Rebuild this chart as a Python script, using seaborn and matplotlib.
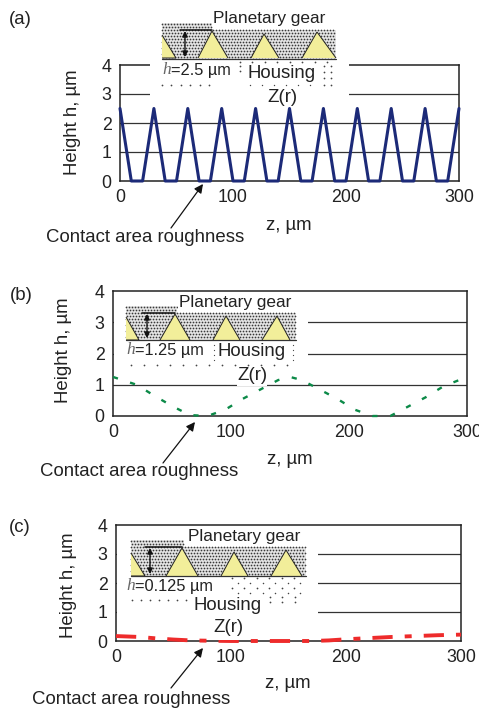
import numpy as np
import pandas as pd
import matplotlib
matplotlib.use('Agg')
import matplotlib.pyplot as plt
from matplotlib.patches import Polygon, Rectangle
import seaborn as sns

# profile data
z_a = [0, 10, 20, 30, 40, 50, 60, 70, 80, 90, 100, 110, 120, 130, 140, 150, 160, 170, 180, 190, 200,
       210, 220, 230, 240, 250, 260, 270, 280, 290, 300]
h_a = [2.5, 0, 0, 2.5, 0, 0, 2.5, 0, 0, 2.5, 0, 0, 2.5, 0, 0, 2.5, 0, 0, 2.5, 0, 0,
       2.5, 0, 0, 2.5, 0, 0, 2.5, 0, 0, 2.5]
z_b = [0, 20, 35, 50, 65, 80, 95, 110, 125, 140, 150, 160, 175, 190, 205, 220, 235, 250, 265, 280, 300]
h_b = [1.25, 1.0, 0.65, 0.32, 0.03, 0, 0.2, 0.55, 0.85, 1.15, 1.25, 1.15, 0.85, 0.55, 0.2, 0, 0, 0.3, 0.6, 0.95, 1.25]
z_c = [0, 20, 35, 50, 65, 80, 100, 120, 150, 170, 185, 200, 215, 240, 260, 280, 300]
h_c = [0.17, 0.14, 0.09, 0.05, 0.02, 0.01, 0, 0, 0, 0, 0.02, 0.06, 0.09, 0.14, 0.17, 0.2, 0.22]

x_ticks = [0, 100, 200, 300]
y_ticks = [0, 1, 2, 3, 4]
x_tick_labels = ['0', '100', '200', '300']
y_tick_labels = ['0', '1', '2', '3', '4']

W, H = 479, 709
FS = 13.4

sns.set_style('white')
plt.rcParams['font.family'] = ['Liberation Sans', 'DejaVu Sans']
fig = plt.figure(figsize=(W / 100, H / 100), dpi=100)


def make_axes(left, right, top, bottom):
    return fig.add_axes([left / W, 1 - bottom / H, (right - left) / W, (bottom - top) / H])


def draw_panel(ax, z, h, color, lw, dash):
    df = pd.DataFrame({'z': z, 'h': h})
    sns.lineplot(data=df, x='z', y='h', ax=ax, color=color, linewidth=lw, linestyle=dash,
                 estimator=None, sort=False, clip_on=False, zorder=5)
    ax.set_xlim(0, 300)
    ax.set_ylim(0, 4)
    ax.set_xticks(x_ticks, x_tick_labels)
    ax.set_yticks(y_ticks, y_tick_labels)
    ax.set_xlabel('')
    ax.set_ylabel('')
    ax.grid(False)
    for y in y_ticks[1:4]:
        ax.axhline(y, color='#333333', lw=0.9, zorder=1)
    for s in ax.spines.values():
        s.set_visible(True)
        s.set_color('#222222')
        s.set_linewidth(1.1)
    ax.tick_params(axis='x', direction='in', length=4, width=0.8, color='#333333', pad=6,
                   labelsize=12.8, labelcolor='#222222')
    ax.tick_params(axis='y', length=0, pad=6, labelsize=12.8, labelcolor='#222222')
    ax.xaxis.get_major_ticks()[0].tick1line.set_visible(False)
    ax.xaxis.get_major_ticks()[-1].tick1line.set_visible(False)


ax_a = make_axes(120, 459, 65, 181)
draw_panel(ax_a, z_a, h_a, '#1c2a78', 2.2, '-')
ax_b = make_axes(113, 467, 291, 416)
draw_panel(ax_b, z_b, h_b, '#0c8a48', 1.7, (0, (2.2, 5.4)))
ax_c = make_axes(116, 461, 525, 641)
draw_panel(ax_c, z_c, h_c, '#ee2b2b', 2.8, (0, (5.2, 3.1, 1.8, 3.1)))

# overlay in pixel coordinates for the schematics and the annotations
ov = fig.add_axes([0, 0, 1, 1], zorder=10)
ov.set_xlim(0, W)
ov.set_ylim(H, 0)
ov.axis('off')
ov.patch.set_alpha(0)


def label(x, y, s, **kw):
    kw.setdefault('fontsize', FS)
    kw.setdefault('ha', 'center')
    kw.setdefault('va', 'center')
    kw.setdefault('color', '#222222')
    return ov.text(x, y, s, **kw)


def dots(xs, ys, size=1.6, color='#444444'):
    X, Y = np.meshgrid(xs, ys)
    ov.scatter(X.ravel(), Y.ravel(), s=size, color=color, linewidths=0, zorder=3)


def gear(x0, bot, top_low, top_high, x_step, x_end, tris):
    # stippled gear body with a raised left block
    ov.add_patch(Polygon([(x0, bot), (x0, top_high), (x_step, top_high), (x_step, top_low),
                          (x_end, top_low), (x_end, bot)], closed=True, fc='#e4e4e4', ec='none', zorder=2))
    for i, y in enumerate(np.arange(top_high + 1, bot, 3)):
        xs = np.arange(x0 + (i % 2) * 1.5, x_end, 3)
        ys = np.full(xs.shape, y)
        keep = (xs <= x_step) | (y >= top_low)
        ov.scatter(xs[keep], ys[keep], s=1.5, color='#3a3a3a', linewidths=0, zorder=3)
    for tri in tris:
        ov.add_patch(Polygon(tri, closed=False, fc='#f2ee9a', ec='#222222', lw=0.7, zorder=4))
    ov.plot([x0, x_end], [bot, bot], color='#333333', lw=0.9, zorder=5)


def measure(x, x2, top, bot):
    ov.plot([x, x2], [top, top], color='#111111', lw=1.1, zorder=6)
    ov.annotate('', xy=(x + 5, top + 1), xytext=(x + 5, bot - 1), zorder=6,
                arrowprops=dict(arrowstyle='<|-|>', color='#111111', lw=1, mutation_scale=8, shrinkA=0, shrinkB=0))


def h_text(x, y, rest):
    ov.text(x, y, 'h', fontsize=12.5, family='Liberation Serif', style='italic', color='#666666',
            ha='left', va='center', zorder=7)
    ov.text(x + 9, y, rest, fontsize=11.8, color='#222222', ha='left', va='center', zorder=7)


def arrow(x0, y0, x1, y1):
    ov.annotate('', xy=(x1, y1), xytext=(x0, y0),
                arrowprops=dict(arrowstyle='-|>', color='#111111', lw=0.9, mutation_scale=13, shrinkA=0, shrinkB=0))


# ---- panel (a)
ov.add_patch(Rectangle((150, 59), 199, 38, fc='white', ec='none', zorder=1))
gear(162, 59, 30, 23, 212, 336, [[(162, 35), (176, 58), (162, 58)], [(198, 58), (212, 31), (228, 58)],
                                 [(251, 58), (264, 34), (279, 58)], [(302, 58), (317, 32), (336, 58)]])
ov.add_patch(Rectangle((213, 8), 114, 21, fc='white', ec='none', zorder=5))
label(269, 19, 'Planetary gear', fontsize=12.4, zorder=7)
measure(180, 212, 30, 58)
h_text(162, 70, '=2.5 µm')
label(282, 74, 'Housing', zorder=7)
label(282, 98, 'Z(r)', zorder=7)
dots(np.arange(162, 215, 9.5), [85])
dots(np.arange(240, 335, 12.5), [62])
dots([240], [66, 71])
dots([324, 331], [66, 72, 78, 85])
dots(np.arange(250, 320, 12), [85], size=1.0)
label(20, 20, '(a)')
label(73, 122, 'Height h, µm', rotation=90)
label(289, 225, 'z, µm')
label(145, 238, 'Contact area roughness')
arrow(171, 228, 203, 184)

# ---- panel (b)
ov.add_patch(Rectangle((114, 295), 194, 80, fc='white', ec='none', zorder=1))
ov.add_patch(Rectangle((237, 366), 30, 20, fc='white', ec='none', zorder=1))
gear(126, 340, 313, 306, 177, 296, [[(126, 317), (139, 340), (126, 340)], [(160, 340), (175, 314), (190, 340)],
                                    [(213, 340), (226, 316), (240, 340)], [(262, 340), (277, 316), (290, 340)]])
ov.add_patch(Rectangle((178, 292), 113, 20, fc='white', ec='none', zorder=5))
label(235, 302, 'Planetary gear', fontsize=12.4, zorder=7)
measure(142, 175, 313, 339)
h_text(126, 350, '=1.25 µm')
label(252, 352, 'Housing', zorder=7)
label(252, 375, 'Z(r)', zorder=7)
dots(np.arange(131, 295, 13), [365])
dots([214, 293], [345, 350, 355, 360], size=0.8)
label(21, 295, '(b)')
label(64, 350, 'Height h, µm', rotation=90)
label(290, 460, 'z, µm')
label(139, 472, 'Contact area roughness')
arrow(163, 463, 195, 422)

# ---- panel (c)
ov.add_patch(Rectangle((117, 527), 201, 88, fc='white', ec='none', zorder=1))
ov.add_patch(Rectangle((210, 613), 36, 27, fc='white', ec='none', zorder=1))
gear(131, 576, 547, 540, 184, 306, [[(131, 553), (145, 576), (131, 576)], [(166, 576), (182, 548), (198, 576)],
                                    [(221, 576), (234, 552), (248, 576)], [(271, 576), (286, 550), (302, 576)]])
ov.add_patch(Rectangle((186, 526), 116, 20, fc='white', ec='none', zorder=5))
label(244, 536, 'Planetary gear', fontsize=12.4, zorder=7)
measure(145, 182, 547, 575)
h_text(126, 586, '=0.125 µm')
label(228, 605, 'Housing', zorder=7)
label(228, 628, 'Z(r)', zorder=7)
dots(np.arange(132, 190, 9), [600])
dots(np.arange(232, 302, 12.5), [578, 588])
dots(np.arange(238, 302, 12.5), [583, 593], size=1.2)
dots(np.arange(270, 302, 12.5), [597, 602])
label(20, 527, '(c)')
label(69, 585, 'Height h, µm', rotation=90)
label(288, 684, 'z, µm')
label(131, 700, 'Contact area roughness')
arrow(171, 688, 203, 648)

fig.savefig('out.png', dpi=100)
